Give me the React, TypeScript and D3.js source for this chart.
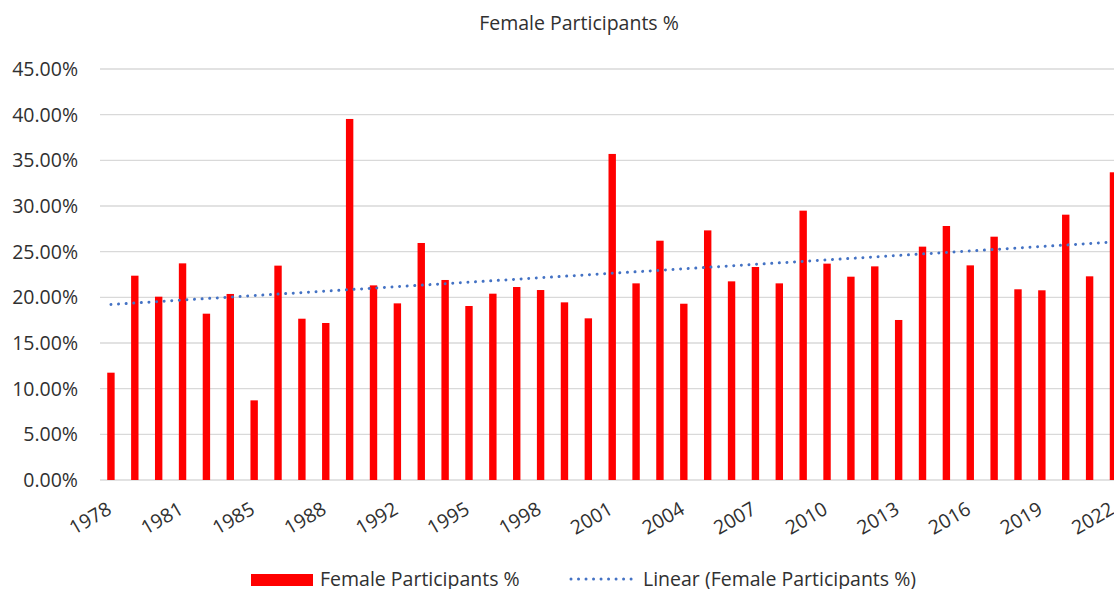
import React, { useEffect, useRef } from 'react'
import * as d3 from 'd3'

const years = [
  1978, 1979, 1980, 1981, 1982, 1983, 1985, 1986, 1987, 1988, 1989,
  1991, 1992, 1993, 1994, 1995, 1996, 1997, 1998, 1999, 2000, 2001,
  2002, 2003, 2004, 2005, 2006, 2007, 2008, 2009, 2010, 2011, 2012,
  2013, 2014, 2015, 2016, 2017, 2018, 2019, 2020, 2021, 2022
]

// share of female participants, in percent
const femalePct = [
  11.75, 22.37, 20.07, 23.72, 18.21, 20.37, 8.72, 23.47, 17.66, 17.19, 39.53,
  21.31, 19.34, 25.95, 21.9, 19.05, 20.4, 21.13, 20.8, 19.45, 17.7, 35.7,
  21.53, 26.2, 19.3, 27.33, 21.75, 23.32, 21.53, 29.49, 23.69, 22.26, 23.39,
  17.52, 25.55, 27.81, 23.5, 26.64, 20.88, 20.77, 29.05, 22.3, 33.69
]

const tickYears = [1978, 1981, 1985, 1988, 1992, 1995, 1998, 2001, 2004, 2007, 2010, 2013, 2016, 2019, 2022]
const yTicks = [0, 5, 10, 15, 20, 25, 30, 35, 40, 45]

const W = 1114
const H = 589
const FONT = '"Open Sans", "Noto Sans", sans-serif'
const TEXT = '#303030'

export default function App() {
  const svgRef = useRef<SVGSVGElement>(null)

  useEffect(() => {
    if (!svgRef.current) return
    const svg = d3.select(svgRef.current)
    svg.selectAll('*').remove()

    const left = 99
    const step = 23.87
    const bottom = 480
    const top = 69

    const x = d3.scaleBand<number>()
      .domain(years)
      .range([left, left + step * years.length])
      .paddingInner(0.69)
      .paddingOuter(0.345)

    const y = d3.scaleLinear().domain([0, 45]).range([bottom, top])

    // gridlines
    svg.append('g')
      .selectAll('line')
      .data(yTicks)
      .join('line')
      .attr('x1', 100)
      .attr('x2', W)
      .attr('y1', d => y(d))
      .attr('y2', d => y(d))
      .attr('stroke', '#d9d9d9')
      .attr('stroke-width', 1.3)

    // y labels
    svg.append('g')
      .selectAll('text')
      .data(yTicks)
      .join('text')
      .attr('x', 78)
      .attr('y', d => y(d))
      .attr('dy', '0.36em')
      .attr('text-anchor', 'end')
      .attr('font-family', FONT)
      .attr('font-size', 19.5)
      .attr('fill', TEXT)
      .text(d => d.toFixed(2) + '%')

    // bars
    svg.append('g')
      .selectAll('rect')
      .data(years)
      .join('rect')
      .attr('x', d => x(d)!)
      .attr('width', x.bandwidth())
      .attr('y', (_, i) => y(femalePct[i]))
      .attr('height', (_, i) => bottom - y(femalePct[i]))
      .attr('fill', '#ff0000')

    // linear trendline (least squares over category index)
    const idx = years.map((_, i) => i + 1)
    const mx = d3.mean(idx)!
    const my = d3.mean(femalePct)!
    const slope = d3.sum(idx, (v, i) => (v - mx) * (femalePct[i] - my)) / d3.sum(idx, v => (v - mx) ** 2)
    const icpt = my - slope * mx
    const cx = (yr: number) => x(yr)! + x.bandwidth() / 2
    const first = years[0]
    const last = years[years.length - 1]

    svg.append('line')
      .attr('x1', cx(first))
      .attr('x2', cx(last))
      .attr('y1', y(icpt + slope * 1))
      .attr('y2', y(icpt + slope * years.length))
      .attr('stroke', '#4472c4')
      .attr('stroke-width', 3)
      .attr('stroke-linecap', 'round')
      .attr('stroke-dasharray', '0.01 7.6')

    // x labels
    svg.append('g')
      .selectAll('text')
      .data(tickYears)
      .join('text')
      .attr('transform', d => `translate(${cx(d) + 2},${bottom + 33}) rotate(-30)`)
      .attr('text-anchor', 'end')
      .attr('font-family', FONT)
      .attr('font-size', 19.5)
      .attr('fill', TEXT)
      .text(d => String(d))

    // title
    svg.append('text')
      .attr('x', 579)
      .attr('y', 30)
      .attr('text-anchor', 'middle')
      .attr('font-family', FONT)
      .attr('font-size', 19.5)
      .attr('fill', TEXT)
      .text('Female Participants %')

    // legend
    const lg = svg.append('g')
    lg.append('rect')
      .attr('x', 251)
      .attr('y', 574)
      .attr('width', 62)
      .attr('height', 12)
      .attr('fill', '#ff0000')
    lg.append('text')
      .attr('x', 320)
      .attr('y', 586)
      .attr('font-family', FONT)
      .attr('font-size', 19.5)
      .attr('fill', TEXT)
      .text('Female Participants %')
    lg.append('line')
      .attr('x1', 571)
      .attr('x2', 632)
      .attr('y1', 579)
      .attr('y2', 579)
      .attr('stroke', '#4472c4')
      .attr('stroke-width', 3)
      .attr('stroke-linecap', 'round')
      .attr('stroke-dasharray', '0.01 7.5')
    lg.append('text')
      .attr('x', 643)
      .attr('y', 586)
      .attr('font-family', FONT)
      .attr('font-size', 19.5)
      .attr('fill', TEXT)
      .text('Linear (Female Participants %)')
  }, [])

  return (
    <svg
      ref={svgRef}
      width={W}
      height={H}
      style={{ position: 'absolute', left: 0, top: 0, background: '#fff' }}
    />
  )
}
